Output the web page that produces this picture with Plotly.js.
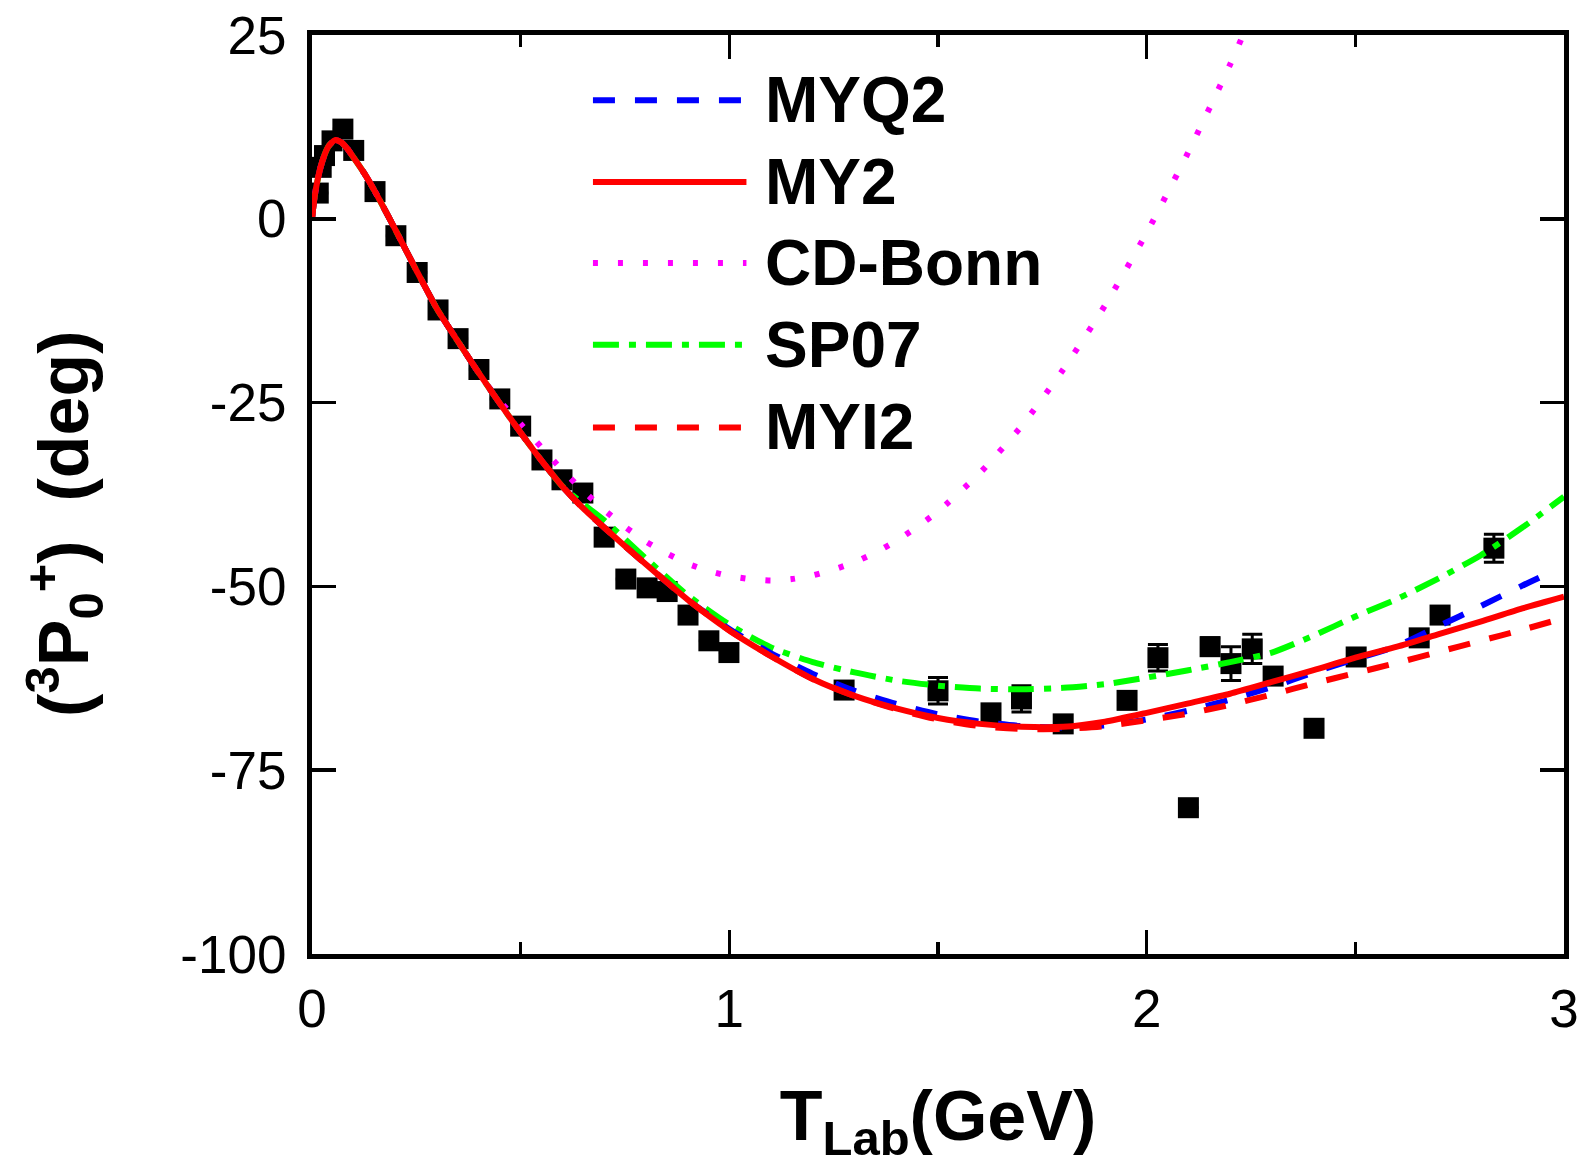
<!DOCTYPE html>
<html>
<head>
<meta charset="utf-8">
<script src="https://cdn.plot.ly/plotly-3.0.1.min.js"></script>
<style>html,body{margin:0;padding:0;background:#fff;}#chart{width:1584px;height:1167px;}</style>
</head>
<body>
<div id="chart"></div>
<script>
// ---- experimental data (black squares) ----
const tLab = [0.015, 0.022, 0.03, 0.048, 0.074, 0.10, 0.151, 0.201, 0.252, 0.302, 0.35, 0.40, 0.45, 0.50, 0.551, 0.599, 0.649, 0.70, 0.752, 0.803, 0.851, 0.901, 0.951, 0.999, 1.275, 1.50, 1.627, 1.70, 1.80, 1.953, 2.027, 2.10, 2.152, 2.202, 2.253, 2.303, 2.401, 2.502, 2.653, 2.703, 2.832];
const phase = [3.5, 7.0, 8.6, 10.6, 12.2, 9.3, 3.7, -2.3, -7.3, -12.4, -16.3, -20.5, -24.5, -28.2, -32.8, -35.5, -37.3, -43.3, -49.0, -50.2, -50.7, -53.9, -57.4, -59.0, -64.1, -64.2, -67.2, -65.3, -68.7, -65.5, -59.7, -80.1, -58.2, -60.5, -58.5, -62.2, -69.3, -59.6, -57.0, -53.9, -44.8];
const phaseErr = [0, 0, 0, 0, 0, 0, 0, 0, 0, 0, 0, 0, 0, 0, 0, 0, 0, 0, 0, 0, 0, 0, 0, 0, 0, 1.8, 0, 1.8, 0, 0, 1.8, 0, 1.2, 2.3, 2.0, 0, 0, 0, 0, 0, 1.9];

// ---- model curves ----
const xMY2 = [0, 0.005, 0.01, 0.02, 0.03, 0.04, 0.055, 0.07, 0.085, 0.1, 0.125, 0.15, 0.2, 0.25, 0.3, 0.35, 0.4, 0.45, 0.5, 0.55, 0.6, 0.65, 0.7, 0.8, 0.9, 1.0, 1.1, 1.2, 1.3, 1.4, 1.5, 1.6, 1.7, 1.8, 1.9, 2.0, 2.1, 2.2, 2.3, 2.4, 2.5, 2.6, 2.7, 2.8, 2.9, 3.0];
const yMY2 = [0, 2.5, 4.3, 6.9, 8.7, 9.9, 10.7, 10.4, 9.5, 8.3, 6.2, 3.8, -1.5, -7.0, -12.3, -16.7, -21.0, -25.1, -29.1, -32.9, -36.4, -39.4, -42.0, -47.0, -51.8, -56.0, -59.5, -62.6, -64.9, -66.6, -67.9, -68.7, -69.1, -69.1, -68.4, -67.2, -65.9, -64.6, -63.0, -61.4, -59.7, -58.2, -56.5, -54.8, -53.0, -51.4];

const xMYQ2 = [0, 0.005, 0.01, 0.02, 0.03, 0.04, 0.055, 0.07, 0.085, 0.1, 0.125, 0.15, 0.2, 0.25, 0.3, 0.35, 0.4, 0.45, 0.5, 0.55, 0.6, 0.65, 0.7, 0.8, 0.9, 1.0, 1.1, 1.2, 1.3, 1.4, 1.5, 1.6, 1.7, 1.8, 1.9, 2.0, 2.1, 2.2, 2.3, 2.4, 2.5, 2.6, 2.7, 2.8, 2.9, 2.96];
const yMYQ2 = [0, 2.5, 4.3, 6.9, 8.7, 9.9, 10.7, 10.4, 9.5, 8.3, 6.2, 3.8, -1.5, -7.0, -12.3, -16.7, -21.0, -25.1, -29.1, -32.9, -36.4, -39.4, -42.0, -47.0, -51.8, -55.8, -59.1, -61.9, -64.2, -66.0, -67.4, -68.4, -69.0, -69.2, -68.9, -68.1, -66.9, -65.4, -63.7, -61.7, -59.9, -58.1, -55.4, -52.7, -49.9, -48.3];

const xCDBonn = [0, 0.005, 0.01, 0.02, 0.03, 0.04, 0.055, 0.07, 0.085, 0.1, 0.125, 0.15, 0.2, 0.25, 0.3, 0.35, 0.4, 0.45, 0.5, 0.55, 0.6, 0.65, 0.7, 0.75, 0.8, 0.85, 0.9, 0.95, 1.0, 1.05, 1.1, 1.15, 1.2, 1.25, 1.3, 1.35, 1.4, 1.45, 1.5, 1.6, 1.7, 1.8, 1.9, 2.0, 2.1, 2.2, 2.25];
const yCDBonn = [0, 2.5, 4.3, 6.9, 8.7, 9.9, 10.7, 10.4, 9.5, 8.3, 6.2, 3.8, -1.5, -7.0, -12.3, -16.7, -21.0, -24.8, -27.9, -31.1, -34.2, -37.0, -39.6, -41.9, -43.9, -45.5, -46.9, -47.9, -48.6, -49.0, -49.2, -49.0, -48.5, -47.7, -46.7, -45.4, -43.8, -41.9, -39.8, -34.6, -28.2, -20.5, -11.8, -1.9, 9.1, 21.0, 27.5];

const xSP07 = [0, 0.005, 0.01, 0.02, 0.03, 0.04, 0.055, 0.07, 0.085, 0.1, 0.125, 0.15, 0.2, 0.25, 0.3, 0.35, 0.4, 0.45, 0.5, 0.55, 0.6, 0.65, 0.7, 0.8, 0.9, 1.0, 1.1, 1.2, 1.3, 1.4, 1.5, 1.6, 1.7, 1.8, 1.9, 2.0, 2.1, 2.2, 2.3, 2.4, 2.5, 2.6, 2.7, 2.8, 2.9, 3.0];
const ySP07 = [0, 2.5, 4.3, 6.9, 8.7, 9.9, 10.7, 10.4, 9.5, 8.3, 6.2, 3.8, -1.5, -7.0, -12.3, -16.7, -21.0, -25.1, -29.1, -32.9, -36.4, -38.8, -41.0, -46.2, -51.2, -55.2, -58.3, -60.3, -61.7, -62.8, -63.5, -63.9, -64.0, -63.8, -63.3, -62.4, -61.4, -60.3, -59.0, -56.7, -54.1, -51.7, -48.9, -45.8, -42.0, -37.8];

const xMYI2 = [0, 0.005, 0.01, 0.02, 0.03, 0.04, 0.055, 0.07, 0.085, 0.1, 0.125, 0.15, 0.2, 0.25, 0.3, 0.35, 0.4, 0.45, 0.5, 0.55, 0.6, 0.65, 0.7, 0.8, 0.9, 1.0, 1.1, 1.2, 1.3, 1.4, 1.5, 1.6, 1.7, 1.8, 1.9, 2.0, 2.1, 2.2, 2.3, 2.4, 2.5, 2.6, 2.7, 2.8, 2.9, 3.0];
const yMYI2 = [0, 2.5, 4.3, 6.9, 8.7, 9.9, 10.7, 10.4, 9.5, 8.3, 6.2, 3.8, -1.5, -7.0, -12.3, -16.7, -21.0, -25.1, -29.1, -32.9, -36.4, -39.4, -42.0, -47.0, -51.8, -56.0, -59.5, -62.6, -64.9, -66.7, -68.1, -69.0, -69.4, -69.4, -69.0, -68.2, -67.3, -66.1, -64.7, -63.2, -61.8, -60.4, -58.9, -57.4, -55.9, -54.3];

// ---- legend & labels ----
const legendNames = ["MYQ2", "MY2", "CD-Bonn", "SP07", "MYI2"];
const xTickVals = [0, 1, 2, 3];
const xTickText = ["0", "1", "2", "3"];
const yTickVals = [-100, -75, -50, -25, 0, 25];
const yTickText = ["-100", "-75", "-50", "-25", "0", "25"];

const styles = [
  {color: "#0000ff", dash: "22px,20px"},
  {color: "#ff0000", dash: "solid"},
  {color: "#ff00ff", dash: "5px,20px"},
  {color: "#00ff00", dash: "26px,10px,7px,10px"},
  {color: "#ff0000", dash: "22px,20px"}
];
const curveX = [xMYQ2, xMY2, xCDBonn, xSP07, xMYI2];
const curveY = [yMYQ2, yMY2, yCDBonn, ySP07, yMYI2];
const drawOrder = [2, 3, 0, 4, 1];

const traces = [];
traces.push({
  x: tLab, y: phase, type: "scatter", mode: "markers", name: "data", showlegend: false,
  marker: {symbol: "square", size: 21, color: "#000000"},
  error_y: {type: "data", array: phaseErr, visible: true, color: "#000000", thickness: 3, width: 10}
});
drawOrder.forEach(i => {
  traces.push({
    x: curveX[i], y: curveY[i], type: "scatter", mode: "lines", name: legendNames[i], showlegend: false,
    line: {color: styles[i].color, dash: styles[i].dash, width: 6, shape: "spline", smoothing: 0.6}
  });
});

// manual legend (long line samples)
const shapes = [];
const annotations = [];
const rowY = [0.929, 0.840, 0.752, 0.663, 0.573];
legendNames.forEach((n, i) => {
  shapes.push({type: "line", xref: "paper", yref: "paper", x0: 0.2244, x1: 0.347, y0: rowY[i], y1: rowY[i],
    line: {color: styles[i].color, dash: styles[i].dash, width: 6}});
  annotations.push({xref: "paper", yref: "paper", x: 0.3604, y: rowY[i], xanchor: "left", yanchor: "middle",
    text: "<b>" + n + "</b>", showarrow: false, font: {family: "Liberation Sans, Arial, sans-serif", size: 64, color: "#000"}});
});

const axCommon = {
  showline: true, linewidth: 5, linecolor: "#000", mirror: "ticks",
  ticks: "inside", ticklen: 24, tickwidth: 3.5, tickcolor: "#000",
  showgrid: false, zeroline: false, automargin: false,
  tickfont: {family: "Liberation Sans, Arial, sans-serif", size: 53, color: "#000"}
};

const layout = {
  width: 1584, height: 1167,
  margin: {l: 312, r: 20, t: 35, b: 213},
  paper_bgcolor: "#fff", plot_bgcolor: "#fff",
  showlegend: false,
  xaxis: Object.assign({}, axCommon, {
    range: [0, 3], tickmode: "array", tickvals: xTickVals, ticktext: xTickText,
    ticklabelstandoff: 4,
    minor: {dtick: 0.5, ticks: "inside", ticklen: 12, tickwidth: 3.5, tickcolor: "#000", showgrid: false},
    title: {text: "<b>T<sub>Lab</sub>(GeV)</b>", standoff: 56,
      font: {family: "Liberation Sans, Arial, sans-serif", size: 70, color: "#000"}}
  }),
  yaxis: Object.assign({}, axCommon, {
    range: [-100, 25], tickmode: "array", tickvals: yTickVals, ticktext: yTickText,
    ticklabelstandoff: 10,
    title: {text: "<b>(<sup>3</sup>P<sub>0</sub><sup>+</sup>)  (deg)&nbsp;&nbsp;&nbsp;</b>", standoff: 70,
      font: {family: "Liberation Sans, Arial, sans-serif", size: 70, color: "#000"}}
  }),
  shapes: shapes,
  annotations: annotations
};

Plotly.newPlot("chart", traces, layout, {displayModeBar: false, staticPlot: true});
</script>
</body>
</html>
